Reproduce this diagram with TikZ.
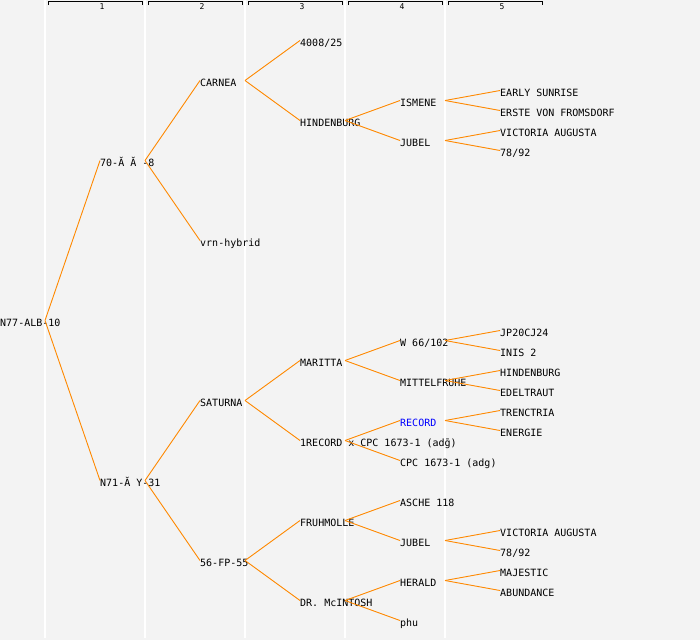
\documentclass[tikz,border=0pt]{standalone}
\usepackage{fontspec}
\setmonofont{DejaVu Sans Mono}
\definecolor{bgc}{RGB}{243,243,243}
\definecolor{edgec}{RGB}{255,136,0}
\definecolor{bluec}{RGB}{0,0,255}
\newcommand\conn[2]{\draw[link] ([xshift=45pt,yshift=5.5pt]#1.base west) -- ([yshift=5.5pt]#2.base west);}
\begin{document}
\begin{tikzpicture}[x=1pt,y=-1pt,
  lbl/.style={anchor=base west, inner sep=0pt, font=\ttfamily\fontsize{10}{12}\selectfont},
  hdr/.style={inner sep=0pt, font=\ttfamily\fontsize{8}{8}\selectfont},
  link/.style={draw=edgec, line width=0.9pt}]
\fill[bgc] (0,0) rectangle (700,640);
\useasboundingbox (0,0) rectangle (700,640);
\foreach \x in {45,145,245,345,445} \draw[white, line width=1.5pt] (\x,0) -- (\x,638);
\foreach \i/\x in {1/48,2/148,3/248,4/348,5/448}{
  \draw[line width=0.9pt] (\x,5) -- (\x,1.5) -- (\x+94,1.5) -- (\x+94,5);
  \node[hdr] (h\i) at (\x+54,6.5) {\i};
}
% column 0
\node[lbl] (n0) at (0,326) {N77-ALB-10};
% column 1
\node[lbl] (a) at (100,166) {70-Ă Ă -8};
\node[lbl] (b) at (100,486) {N71-Ă Y-31};
% column 2
\node[lbl] (a1) at (200,86) {CARNEA};
\node[lbl] (a2) at (200,246) {vrn-hybrid};
\node[lbl] (b1) at (200,406) {SATURNA};
\node[lbl] (b2) at (200,566) {56-FP-55};
% column 3
\node[lbl] (a11) at (300,46) {4008/25};
\node[lbl] (a12) at (300,126) {HINDENBURG};
\node[lbl] (b11) at (300,366) {MARITTA};
\node[lbl] (b12) at (300,446) {1RECORD x CPC 1673-1 (adḡ)};
\node[lbl] (b21) at (300,526) {FRUHMOLLE};
\node[lbl] (b22) at (300,606) {DR. McINTOSH};
% column 4
\node[lbl] (a121) at (400,106) {ISMENE};
\node[lbl] (a122) at (400,146) {JUBEL};
\node[lbl] (b111) at (400,346) {W 66/102};
\node[lbl] (b112) at (400,386) {MITTELFRUHE};
\node[lbl,text=bluec] (b121) at (400,426) {RECORD};
\node[lbl] (b122) at (400,466) {CPC 1673-1 (adg)};
\node[lbl] (b211) at (400,506) {ASCHE 118};
\node[lbl] (b212) at (400,546) {JUBEL};
\node[lbl] (b221) at (400,586) {HERALD};
\node[lbl] (b222) at (400,626) {phu};
% column 5
\node[lbl] (c1) at (500,96) {EARLY SUNRISE};
\node[lbl] (c2) at (500,116) {ERSTE VON FROMSDORF};
\node[lbl] (c3) at (500,136) {VICTORIA AUGUSTA};
\node[lbl] (c4) at (500,156) {78/92};
\node[lbl] (c5) at (500,336) {JP20CJ24};
\node[lbl] (c6) at (500,356) {INIS 2};
\node[lbl] (c7) at (500,376) {HINDENBURG};
\node[lbl] (c8) at (500,396) {EDELTRAUT};
\node[lbl] (c9) at (500,416) {TRENCTRIA};
\node[lbl] (c10) at (500,436) {ENERGIE};
\node[lbl] (c11) at (500,536) {VICTORIA AUGUSTA};
\node[lbl] (c12) at (500,556) {78/92};
\node[lbl] (c13) at (500,576) {MAJESTIC};
\node[lbl] (c14) at (500,596) {ABUNDANCE};
% connectors
\conn{n0}{a}\conn{n0}{b}
\conn{a}{a1}\conn{a}{a2}
\conn{a1}{a11}\conn{a1}{a12}
\conn{a12}{a121}\conn{a12}{a122}
\conn{a121}{c1}\conn{a121}{c2}
\conn{a122}{c3}\conn{a122}{c4}
\conn{b}{b1}\conn{b}{b2}
\conn{b1}{b11}\conn{b1}{b12}
\conn{b11}{b111}\conn{b11}{b112}
\conn{b111}{c5}\conn{b111}{c6}
\conn{b112}{c7}\conn{b112}{c8}
\conn{b12}{b121}\conn{b12}{b122}
\conn{b121}{c9}\conn{b121}{c10}
\conn{b2}{b21}\conn{b2}{b22}
\conn{b21}{b211}\conn{b21}{b212}
\conn{b212}{c11}\conn{b212}{c12}
\conn{b22}{b221}\conn{b22}{b222}
\conn{b221}{c13}\conn{b221}{c14}
\end{tikzpicture}
\end{document}
